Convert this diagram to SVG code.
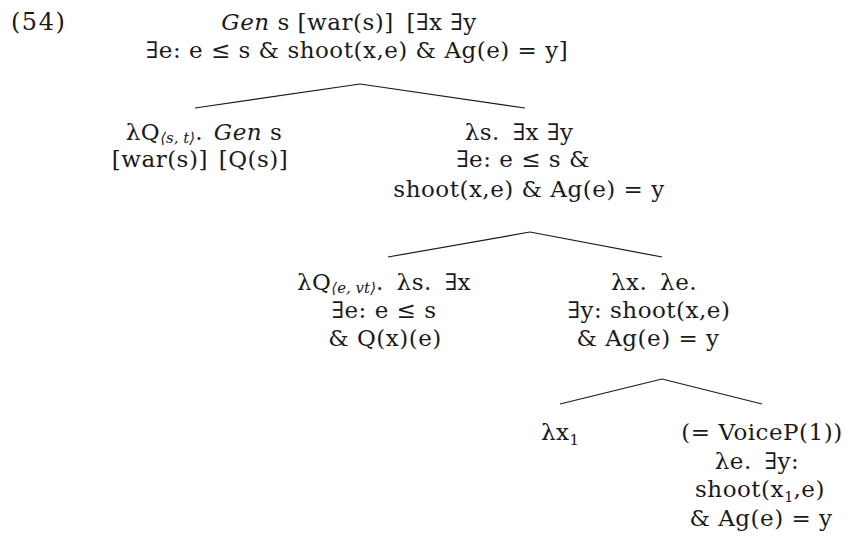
<svg xmlns="http://www.w3.org/2000/svg" width="848" height="549" viewBox="0 0 848 549">
<style>
text{font-family:"DejaVu Serif","Liberation Serif",serif;font-size:23px;letter-spacing:0.5px;fill:#1a1a1a;text-anchor:middle}
.l{text-anchor:start}
.i{font-style:italic}
.sub{font-size:15px;letter-spacing:0}
line{stroke:#1a1a1a;stroke-width:1.2}
</style>
<rect width="848" height="549" fill="#fff"/>
<text class="l" x="11" y="30" style="font-size:24px;letter-spacing:1.5px">(54)</text>
<g id="root">
<text x="349" y="30"><tspan class="i">Gen</tspan> s [war(s)] <tspan dx="5">[∃x</tspan> ∃y</text>
<text x="357" y="58">∃e: e ≤ s &amp; shoot(x,e) &amp; Ag(e) = y]</text>
</g>
<g id="n1">
<text x="204" y="140">λQ<tspan class="sub i" dy="3">⟨s, t⟩</tspan><tspan dy="-3">.</tspan> <tspan dx="3" class="i">Gen</tspan> s</text>
<text x="200" y="167">[war(s)] <tspan dx="3">[Q(s)]</tspan></text>
</g>
<g id="n2">
<text x="519" y="140">λs. <tspan dx="5">∃x ∃y</tspan></text>
<text x="523" y="167">∃e: e ≤ s &amp;</text>
<text x="529" y="197">shoot(x,e) &amp; Ag(e) = y</text>
</g>
<g id="n3">
<text x="384" y="290">λQ<tspan class="sub i" dy="3">⟨e, vt⟩</tspan><tspan dy="-3">.</tspan> <tspan dx="5">λs.</tspan> <tspan dx="5">∃x</tspan></text>
<text x="384" y="318">∃e: e ≤ s</text>
<text x="385" y="346">&amp; Q(x)(e)</text>
</g>
<g id="n4">
<text x="654" y="290">λx. <tspan dx="5">λe.</tspan></text>
<text x="649" y="318">∃y: shoot(x,e)</text>
<text x="648" y="346">&amp; Ag(e) = y</text>
</g>
<g id="n5">
<text x="560" y="440">λx<tspan class="sub" dy="5">1</tspan></text>
</g>
<g id="n6">
<text x="762" y="440">(= VoiceP(1))</text>
<text x="757" y="469">λe. <tspan dx="5">∃y:</tspan></text>
<text x="760" y="497">shoot(x<tspan class="sub" dy="5">1</tspan><tspan dy="-5">,e)</tspan></text>
<text x="761" y="526">&amp; Ag(e) = y</text>
</g>
<g id="connectors">
<line x1="360" y1="84" x2="195" y2="108"/>
<line x1="360" y1="84" x2="525" y2="108"/>
<line x1="530" y1="232" x2="388" y2="257"/>
<line x1="530" y1="232" x2="662" y2="257"/>
<line x1="662" y1="379" x2="560" y2="404"/>
<line x1="662" y1="379" x2="762" y2="404"/>
</g>
</svg>
